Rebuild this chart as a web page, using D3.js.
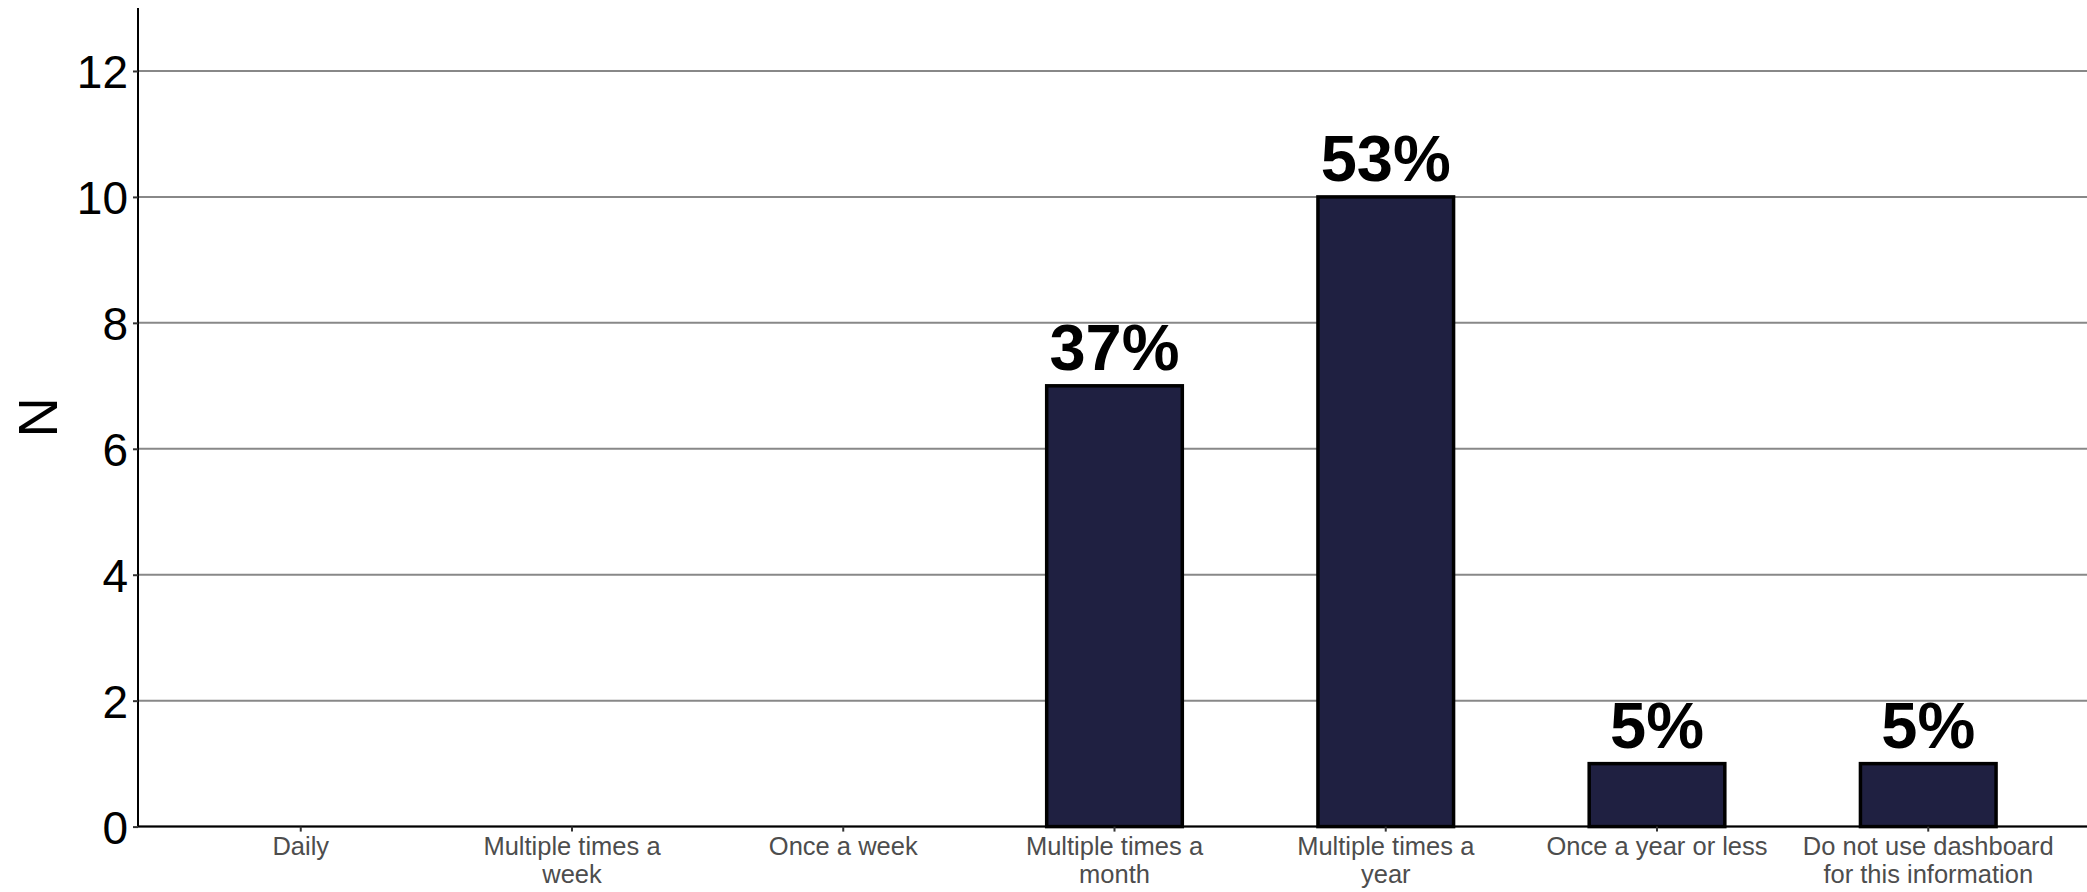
<!DOCTYPE html>
<html>
<head>
<meta charset="utf-8">
<script src="https://cdn.jsdelivr.net/npm/d3@7"></script>
<style>
  html, body { margin: 0; padding: 0; background: #fff; }
  svg { display: block; }
</style>
</head>
<body>
<div id="chart"></div>
<script>
// Survey responses: how often the dashboard is used for this information
const categories = [
  "Daily",
  "Multiple times a week",
  "Once a week",
  "Multiple times a month",
  "Multiple times a year",
  "Once a year or less",
  "Do not use dashboard for this information"
];
// Wrapped versions of the category names, one entry per line
const categoryLines = [
  ["Daily"],
  ["Multiple times a", "week"],
  ["Once a week"],
  ["Multiple times a", "month"],
  ["Multiple times a", "year"],
  ["Once a year or less"],
  ["Do not use dashboard", "for this information"]
];
const counts = [0, 0, 0, 7, 10, 1, 1];
const yTicks = [0, 2, 4, 6, 8, 10, 12];
const yMax = 13;

const W = 2087, H = 892;
const margin = { left: 138, right: -4, top: 8, bottom: 65.4 };

const svg = d3.select("#chart").append("svg")
  .attr("width", W).attr("height", H);

const x = d3.scaleBand()
  .domain(categories)
  .range([margin.left, W - margin.right])
  .paddingInner(0.5)
  .paddingOuter(0.35);

const y = d3.scaleLinear()
  .domain([0, yMax])
  .range([H - margin.bottom, margin.top]);

const total = d3.sum(counts);
const data = categories.map((c, i) => ({ cat: c, n: counts[i], lines: categoryLines[i] }));

// Horizontal grid lines
svg.append("g")
  .selectAll("line")
  .data(yTicks)
  .join("line")
  .attr("x1", margin.left)
  .attr("x2", W)
  .attr("y1", d => y(d))
  .attr("y2", d => y(d))
  .attr("stroke", "#888888")
  .attr("stroke-width", 2);

// Bars
svg.append("g")
  .selectAll("rect")
  .data(data.filter(d => d.n > 0))
  .join("rect")
  .attr("x", d => x(d.cat))
  .attr("width", x.bandwidth())
  .attr("y", d => y(d.n))
  .attr("height", d => y(0) - y(d.n))
  .attr("fill", "#1f2041")
  .attr("stroke", "#000")
  .attr("stroke-width", 3.5);

// Percentage labels above bars
svg.append("g")
  .selectAll("text")
  .data(data.filter(d => d.n > 0))
  .join("text")
  .attr("x", d => x(d.cat) + x.bandwidth() / 2)
  .attr("y", d => y(d.n) - 16)
  .attr("text-anchor", "middle")
  .attr("font-family", "Liberation Sans, Arial, sans-serif")
  .attr("font-weight", "bold")
  .attr("font-size", 65)
  .attr("fill", "#000")
  .text(d => Math.round(d.n / total * 100) + "%");

// Y axis
const yAxis = svg.append("g")
  .attr("transform", `translate(${margin.left},0)`)
  .call(d3.axisLeft(y).tickValues(yTicks).tickSize(5).tickPadding(5).tickFormat(d3.format("d")));
yAxis.select(".domain")
  .attr("d", `M0,${margin.top}V${y(0)}`)
  .attr("stroke", "#000").attr("stroke-width", 2);
yAxis.selectAll(".tick line").attr("stroke", "#333").attr("stroke-width", 2);
yAxis.selectAll(".tick text")
  .attr("font-family", "Liberation Sans, Arial, sans-serif")
  .attr("font-size", 46)
  .attr("fill", "#000")
  .attr("dy", "0.36em");

// X axis
const xAxis = svg.append("g")
  .attr("transform", `translate(0,${y(0)})`)
  .call(d3.axisBottom(x).tickSize(5).tickFormat(""));
xAxis.select(".domain")
  .attr("d", `M${margin.left},0H${W}`)
  .attr("stroke", "#000").attr("stroke-width", 2);
xAxis.selectAll(".tick line").attr("stroke", "#333").attr("stroke-width", 2);

// Multi-line category labels
const labelG = svg.append("g");
data.forEach(d => {
  const t = labelG.append("text")
    .attr("text-anchor", "middle")
    .attr("font-family", "Liberation Sans, Arial, sans-serif")
    .attr("font-size", 25.5)
    .attr("fill", "#4d4d4d")
    .attr("transform", `translate(${x(d.cat) + x.bandwidth() / 2},${y(0) + 28.5})`);
  d.lines.forEach((ln, i) => {
    t.append("tspan").attr("x", 0).attr("y", i * 28).text(ln);
  });
});

// Y axis title
svg.append("text")
  .attr("transform", `translate(57,${(margin.top + y(0)) / 2}) rotate(-90)`)
  .attr("text-anchor", "middle")
  .attr("font-family", "Liberation Sans, Arial, sans-serif")
  .attr("font-size", 56)
  .attr("fill", "#000")
  .text("N");
</script>
</body>
</html>
